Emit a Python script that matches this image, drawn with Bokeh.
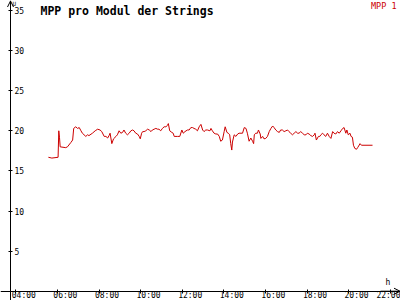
from bokeh.plotting import figure
from bokeh.models import LinearAxis, FixedTicker, Range1d, Label, Arrow, OpenHead
from bokeh.embed import file_html
from bokeh.resources import INLINE

# ---- data ----
times = ["05:34","05:44","06:02","06:04","06:06","06:08","06:24","06:29","06:39","06:44","06:47","06:53","06:58",
         "07:03","07:08","07:12","07:22","07:27","07:31","07:41","07:49","07:56","08:03","08:08","08:15","08:20",
         "08:25","08:29","08:32","08:37","08:42","08:49","08:53","08:58","09:03","09:08","09:12","09:17","09:22",
         "09:27","09:32","09:37","09:41","09:46","09:51","09:56","09:59","10:03","10:06","10:10","10:15","10:20",
         "10:25","10:30","10:34","10:39","10:44","10:49","10:53","10:58","11:03","11:08","11:13","11:18","11:20",
         "11:24","11:30","11:34","11:37","11:46","11:53","11:59","12:03","12:08","12:15","12:20","12:25","12:30",
         "12:34","12:39","12:44","12:49","12:54","12:59","13:03","13:08","13:13","13:20","13:23","13:27","13:32",
         "13:37","13:42","13:47","13:51","13:56","14:01","14:04","14:09","14:13","14:17","14:20","14:23","14:25",
         "14:30","14:35","14:40","14:44","14:54","14:59","15:04","15:08","15:13","15:18","15:23","15:26","15:28",
         "15:32","15:37","15:40","15:45","15:47","15:52","15:56","16:01","16:06","16:11","16:16","16:21","16:25",
         "16:30","16:35","16:40","16:44","16:49","16:54","16:59","17:04","17:08","17:13","17:18","17:23","17:28",
         "17:33","17:37","17:42","17:47","17:52","17:57","18:01","18:06","18:11","18:16","18:21","18:23","18:27",
         "18:33","18:37","18:40","18:45","18:49","18:54","18:59","19:04","19:09","19:14","19:18","19:23","19:28",
         "19:33","19:38","19:43","19:47","19:52","19:55","19:59","20:04","20:07","20:11","20:14","20:18","20:23",
         "20:26","20:29","20:33","20:37","21:09"]
mpp1 = [16.7,16.6,16.7,20.0,19.2,18.0,17.9,18.0,18.55,18.85,20.3,20.5,20.3,
        20.4,20.0,19.7,19.3,19.5,19.4,19.7,20.0,20.2,20.1,19.9,19.3,19.3,
        19.1,19.4,19.7,18.4,19.0,19.3,19.5,20.0,19.7,19.8,20.1,19.7,19.5,
        19.7,20.0,20.1,20.0,19.7,19.6,19.3,19.0,19.7,19.9,19.9,20.0,20.2,
        20.1,19.9,20.1,20.2,20.3,20.2,20.2,20.0,20.3,20.5,20.5,20.7,20.9,
        20.0,19.8,19.7,19.3,19.3,19.3,20.1,19.7,19.9,20.1,20.1,20.4,20.4,
        20.3,20.2,20.0,20.5,20.8,20.1,19.9,20.1,20.1,20.0,20.3,20.0,19.7,
        19.6,19.6,19.3,18.7,18.85,19.9,20.5,19.8,19.7,19.5,18.4,17.6,18.6,
        19.5,19.3,19.6,19.7,19.7,20.4,20.3,19.7,18.7,19.1,18.7,18.4,19.5,
        19.7,19.7,20.1,19.6,19.05,19.3,19.0,19.05,19.3,19.9,20.3,20.6,20.4,
        20.1,19.9,19.8,20.1,20.1,19.9,20.0,20.1,19.9,19.7,19.5,19.7,19.9,
        19.7,19.7,19.9,19.7,19.5,19.5,19.7,19.6,19.4,19.3,19.5,19.7,18.85,
        19.3,19.3,19.5,19.7,19.5,19.3,19.7,19.3,19.05,19.9,19.7,19.6,19.9,
        19.7,20.0,20.3,20.4,19.7,20.1,19.5,19.7,19.3,19.2,18.2,17.8,17.7,
        17.9,18.1,18.4,18.2,18.2]
x_ticks = [4, 6, 8, 10, 12, 14, 16, 18, 20, 22]
x_tick_labels = ["04:00","06:00","08:00","10:00","12:00","14:00","16:00","18:00","20:00","22:00"]
y_ticks = [5, 10, 15, 20, 25, 30, 35]
series_name = "MPP 1"
title_text = "MPP pro Modul der Strings"

def to_hours(s):
    h, m = s.split(":")
    return int(h) + int(m) / 60.0

hours = [to_hours(t) for t in times]

# ---- geometry ----
W, H = 400, 300
PXH = 20.8          # pixels per hour
PXV = 8.02          # pixels per unit
X0 = 4 - 15.3 / PXH
X1 = X0 + W / PXH
Y1 = 290.7 / PXV
Y0 = Y1 - H / PXV
YAXIS_X = X0 + 10 / PXH

def sx(px):
    return X0 + px / PXH

def sy(py):
    return Y1 - py / PXV

RED = "#cc0000"
FONT = "DejaVu Sans Mono"

p = figure(width=W, height=H, x_range=Range1d(X0, X1), y_range=Range1d(Y0, Y1),
           x_axis_location=None, y_axis_location=None, toolbar_location=None,
           output_backend="svg", min_border=0, outline_line_color=None,
           background_fill_color="white", border_fill_color="white")
p.grid.grid_line_color = None

p.line(hours, mpp1, line_color=RED, line_width=1)

# y axis (labels to the right of the line)
yaxis = LinearAxis(fixed_location=YAXIS_X, ticker=FixedTicker(ticks=y_ticks),
                   major_tick_in=2, major_tick_out=2, minor_tick_line_color=None,
                   axis_line_color="black", major_tick_line_color="black",
                   major_label_standoff=2, major_label_text_font=FONT,
                   major_label_text_font_size="8px", major_label_text_color="black")
p.add_layout(yaxis, "right")

# x axis line and ticks
xaxis = LinearAxis(fixed_location=0, ticker=FixedTicker(ticks=x_ticks),
                   major_tick_in=2, major_tick_out=2, minor_tick_line_color=None,
                   axis_line_color="black", major_tick_line_color="black",
                   major_label_text_color=None)
p.add_layout(xaxis, "below")

# x tick labels, offset to the right of each tick like the reference
p.extra_x_ranges = {"lbl": Range1d(X0 - 8 / PXH, X1 - 8 / PXH)}
xlab = LinearAxis(x_range_name="lbl", fixed_location=0, ticker=FixedTicker(ticks=x_ticks),
                  major_label_overrides={t: l for t, l in zip(x_ticks, x_tick_labels)},
                  axis_line_color=None, major_tick_line_color=None, minor_tick_line_color=None,
                  major_tick_in=0, major_tick_out=0, major_label_standoff=0,
                  major_label_text_font=FONT, major_label_text_font_size="8px",
                  major_label_text_color="black")
p.add_layout(xlab, "below")

# axis arrows
p.add_layout(Arrow(end=OpenHead(size=6, line_width=1, line_color="black"),
                   x_start=YAXIS_X, y_start=sy(20), x_end=YAXIS_X, y_end=sy(0.5),
                   line_color="black", line_width=1))
p.add_layout(Arrow(end=OpenHead(size=6, line_width=1, line_color="black"),
                   x_start=sx(380), y_start=0, x_end=sx(399.5), y_end=0,
                   line_color="black", line_width=1))

# texts
p.add_layout(Label(x=sx(40), y=sy(3), text=title_text, text_font=FONT,
                   text_font_style="bold", text_font_size="11.5px",
                   text_baseline="top", text_color="black"))
p.add_layout(Label(x=sx(396), y=sy(0), text=series_name, text_font=FONT,
                   text_font_size="8.5px", text_align="right",
                   text_baseline="top", text_color=RED))
p.add_layout(Label(x=sx(385), y=sy(277), text="h", text_font=FONT,
                   text_font_size="8px", text_baseline="top", text_color="black"))
p.add_layout(Label(x=sx(12), y=sy(-1), text="U", text_font=FONT,
                   text_font_size="6px", text_baseline="top", text_color="black"))

open("out.html", "w").write(file_html(p, INLINE))
